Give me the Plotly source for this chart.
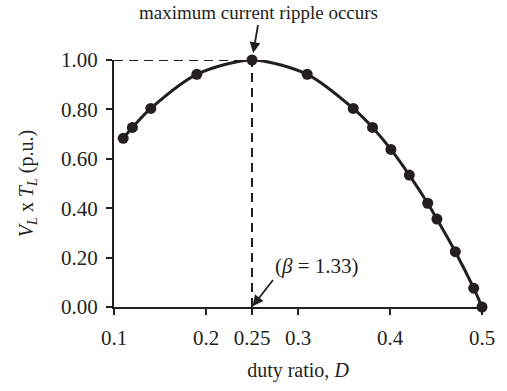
import plotly.graph_objects as go

# duty ratio D and normalised volt-second product V_L x T_L (p.u.)
duty = [0.110, 0.120, 0.140, 0.190, 0.250, 0.310, 0.360, 0.381, 0.401, 0.421,
        0.441, 0.451, 0.471, 0.491, 0.500]
vl_tl = [0.683, 0.727, 0.804, 0.942, 1.000, 0.942, 0.804, 0.727, 0.638, 0.534,
         0.420, 0.356, 0.224, 0.076, 0.000]

x_ticks = [0.1, 0.2, 0.25, 0.3, 0.4, 0.5]
x_ticktext = ["0.1", "0.2", "0.25", "0.3", "0.4", "0.5"]
y_ticks = [0.0, 0.2, 0.4, 0.6, 0.8, 1.0]

d_peak = 0.25
v_peak = 1.0

FONT = "Liberation Serif"
BLACK = "#231f20"

fig = go.Figure()

# dashed guides to the peak
fig.add_trace(go.Scatter(x=[0.1, d_peak], y=[v_peak, v_peak], mode="lines",
                         line=dict(color=BLACK, width=2, dash="9px,6px"),
                         hoverinfo="skip", showlegend=False, cliponaxis=False))
fig.add_trace(go.Scatter(x=[d_peak, d_peak], y=[0, v_peak], mode="lines",
                         line=dict(color=BLACK, width=2, dash="9px,6px"),
                         hoverinfo="skip", showlegend=False, cliponaxis=False))

# measured curve
fig.add_trace(go.Scatter(x=duty, y=vl_tl, mode="lines+markers",
                         line=dict(color=BLACK, width=3, shape="spline", smoothing=0.8),
                         marker=dict(color=BLACK, size=11),
                         showlegend=False, cliponaxis=False))

axis_common = dict(showline=True, linecolor=BLACK, linewidth=2,
                   showgrid=False, zeroline=False, ticks="outside",
                   ticklen=6, tickwidth=1.5, tickcolor=BLACK,
                   tickfont=dict(family=FONT, size=21, color=BLACK))

fig.update_xaxes(range=[0.1, 0.5], tickvals=x_ticks, ticktext=x_ticktext,
                 ticklabelstandoff=5,
                 title=dict(text="duty ratio, <i>D</i>",
                            font=dict(family=FONT, size=20, color=BLACK),
                            standoff=14),
                 **axis_common)
fig.update_yaxes(range=[0, 1], tickvals=y_ticks, tickformat=".2f",
                 ticklabelstandoff=4,
                 title=dict(text="<i>V<sub>L</sub></i> x <i>T<sub>L</sub></i> (p.u.)",
                            font=dict(family=FONT, size=20, color=BLACK),
                            standoff=22),
                 **axis_common)

fig.add_annotation(x=d_peak, y=v_peak, xref="x", yref="y",
                   text="maximum current ripple occurs",
                   font=dict(family=FONT, size=19, color=BLACK),
                   showarrow=True, arrowhead=2, arrowsize=1.2, arrowwidth=1.8,
                   arrowcolor=BLACK, ax=6, ay=-35, standoff=7, yanchor="bottom")
fig.add_annotation(x=d_peak, y=0, xref="x", yref="y",
                   text="(<i>β</i> = 1.33)",
                   font=dict(family=FONT, size=21, color=BLACK),
                   showarrow=True, arrowhead=2, arrowsize=1.2, arrowwidth=1.8,
                   arrowcolor=BLACK, ax=21, ay=-27, standoff=1,
                   xanchor="left", yanchor="bottom")

fig.update_layout(width=507, height=391,
                  margin=dict(l=114, r=25, t=60, b=84),
                  paper_bgcolor="white", plot_bgcolor="white")

fig.write_html("out.html")
